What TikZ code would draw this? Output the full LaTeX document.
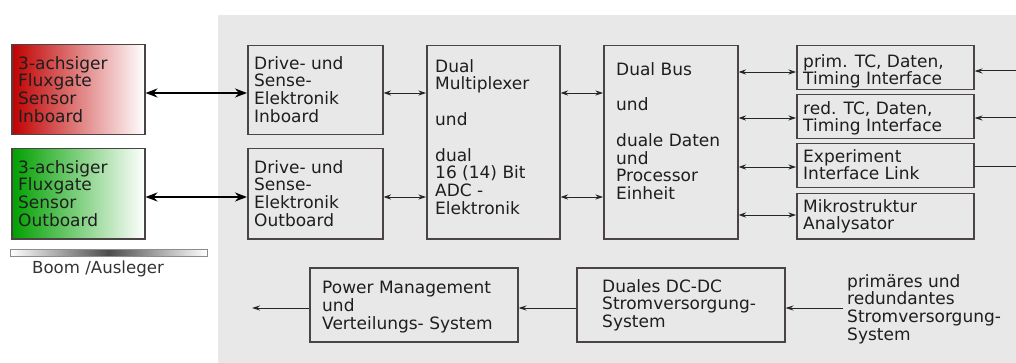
\documentclass[tikz,border=0pt]{standalone}
\usepackage{fontspec}
\setmainfont{DejaVu Sans}
\usetikzlibrary{arrows.meta}
\definecolor{panel}{HTML}{E8E8E8}
\definecolor{edge}{HTML}{4A4444}
\definecolor{ink}{HTML}{1E1E1E}
\definecolor{sensred}{HTML}{C00000}
\definecolor{sensgreen}{HTML}{00A000}
\tikzset{
  box/.style={draw=edge, line width=1.5pt, fill=panel, rectangle, inner sep=0pt,
              anchor=north west, minimum width=#1},
  sensor/.style={draw=edge, line width=1.5pt, rectangle, inner sep=0pt,
              anchor=north west, minimum width=133pt, minimum height=90pt},
  txt/.style={anchor=north west, inner sep=0pt, align=left, text=ink,
              font=\fontsize{17}{17.8}\selectfont},
  link/.style={draw=black!85, line width=0.9pt, {Stealth[length=7.5pt,width=5pt]}-{Stealth[length=7.5pt,width=5pt]}},
  feed/.style={draw=black!85, line width=1pt, -{Stealth[length=8pt,width=5pt]}},
  wire/.style={draw=black!85, line width=1pt},
  boomlink/.style={draw=black, line width=2pt, {Stealth[length=12pt,width=9pt]}-{Stealth[length=12pt,width=9pt]}}
}
\begin{document}
\begin{tikzpicture}[x=1pt, y=-1pt]
\useasboundingbox (0,0) rectangle (1016,363);
% grey panel holding the electronics
\fill[panel] (218,15) rectangle (1016,363);

% sensors on the boom
\node[sensor, left color=sensred, right color=white] (senin) at (11,44) {};
\node[sensor, left color=sensgreen, right color=white] (senout) at (11,148) {};
\node[txt] (senintxt) at (18,56) {3-achsiger\\Fluxgate\\Sensor\\Inboard};
\node[txt] (senouttxt) at (18,160) {3-achsiger\\Fluxgate\\Sensor\\Outboard};

% boom bar and its caption
\shade[left color=white, right color=white, middle color=black!70, draw=black!45, line width=0.8pt]
  (10,249) rectangle (207,256);
\node[anchor=north west, inner sep=0pt, text=black!80, font=\fontsize{16.6}{17}\selectfont]
  (boom) at (32,261) {Boom /Ausleger};

% drive and sense electronics
\node[box=135pt, minimum height=89pt] (drvin) at (247,45) {};
\node[box=135pt, minimum height=90pt] (drvout) at (247,148) {};
\node[txt] (drvintxt) at (254,56) {Drive- und\\Sense-\\Elektronik\\Inboard};
\node[txt] (drvouttxt) at (254,160) {Drive- und\\Sense-\\Elektronik\\Outboard};

% multiplexer / ADC
\node[box=133pt, minimum height=193pt] (mux) at (426,45) {};
\node[txt] (muxtxt) at (435,59) {Dual\\Multiplexer\\[17.8pt]und\\[17.8pt]dual\\16 (14) Bit\\ADC -\\Elektronik};

% bus and processor
\node[box=134pt, minimum height=193pt] (bus) at (603,45) {};
\node[txt] (bustxt) at (616,62) {Dual Bus\\[17.8pt]und\\[17.8pt]duale Daten\\und\\Processor\\Einheit};

% interfaces
\node[box=177pt, minimum height=44pt] (prim) at (796,45) {};
\node[box=177pt, minimum height=44pt] (red) at (796,94) {};
\node[box=177pt, minimum height=44pt] (expl) at (796,143) {};
\node[box=177pt, minimum height=45pt] (mikro) at (796,193) {};
\node[txt] (primtxt) at (803,54) {prim. TC, Daten,\\Timing Interface};
\node[txt] (redtxt) at (803,101) {red. TC, Daten,\\Timing Interface};
\node[txt] (expltxt) at (803,149) {Experiment\\Interface Link};
\node[txt] (mikrotxt) at (803,199) {Mikrostruktur\\Analysator};

% power chain
\node[box=208pt, minimum height=74pt] (pwr) at (309,267) {};
\node[txt] (pwrtxt) at (322,281) {Power Management\\und\\Verteilungs- System};
\node[box=208pt, minimum height=74pt] (dcdc) at (576,267) {};
\node[txt] (dcdctxt) at (602,279) {Duales DC-DC\\Stromversorgung-\\System};
\node[txt] (supply) at (847,274) {primäres und\\redundantes\\Stromversorgung-\\System};

% free ends at the panel edges
\coordinate (inprim) at (1016,71);
\coordinate (inred) at (1016,118);
\coordinate (outexp) at (1016,167);
\coordinate (pwrout) at (252,308);

% sensor harness
\draw[boomlink] (senin.east |- 0,93) -- (drvin.west |- 0,93);
\draw[boomlink] (senout.east |- 0,197) -- (drvout.west |- 0,197);

% data paths
\draw[link] (drvin.east |- 0,93) -- (mux.west |- 0,93);
\draw[link] (drvout.east |- 0,197) -- (mux.west |- 0,197);
\draw[link] (mux.east |- 0,93) -- (bus.west |- 0,93);
\draw[link] (mux.east |- 0,197) -- (bus.west |- 0,197);
\draw[link] (bus.east |- 0,72) -- (prim.west |- 0,72);
\draw[link] (bus.east |- 0,118) -- (red.west |- 0,118);
\draw[link] (bus.east |- 0,167) -- (expl.west |- 0,167);
\draw[link] (bus.east |- 0,215) -- (mikro.west |- 0,215);

% external lines
\draw[feed] (inprim) -- (prim.east |- inprim);
\draw[feed] (inred) -- (red.east |- inred);
\draw[wire] (expl.east |- outexp) -- (outexp);

% power flow
\draw[feed] ([xshift=-4pt]supply.west |- 0,308) -- (dcdc.east |- 0,308);
\draw[feed] (dcdc.west |- 0,308) -- (pwr.east |- 0,308);
\draw[feed] (pwr.west |- pwrout) -- (pwrout);
\end{tikzpicture}
\end{document}
